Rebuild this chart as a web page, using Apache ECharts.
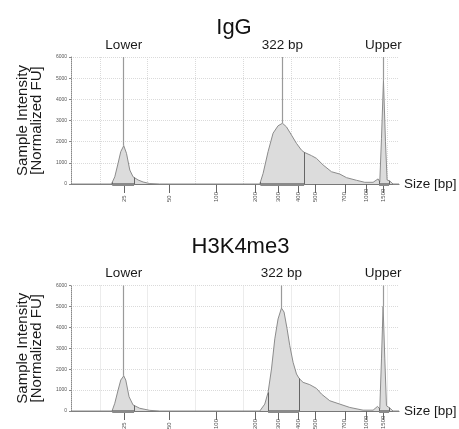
<!DOCTYPE html>
<html><head><meta charset="utf-8">
<script src="https://cdn.jsdelivr.net/npm/echarts@6/dist/echarts.min.js"></script>
<style>html,body{margin:0;padding:0;background:#fff}#c{width:459px;height:429px}</style>
</head><body><div id="c"></div>
<script>
// Ladder (size labels) positioned on migration-time axis
const ladderSizes = [25, 50, 100, 200, 300, 400, 500, 700, 1000, 1500];
const ladderTimes = [55.1, 64.5, 74.3, 82.4, 87.3, 91.4, 95.0, 101.1, 105.6, 109.2];

const panelTitles = ['IgG', 'H3K4me3'];
const markerNames = ['Lower', '322 bp', 'Upper'];

// IgG electropherogram
const iggTime = [44.0, 52.44, 53.13, 53.82, 54.38, 55.0, 55.57, 56.26, 56.94, 57.99, 59.03, 60.43, 62.5,
  83.37, 84.06, 85.1, 86.14, 87.18, 88.1, 88.93, 89.98, 91.02, 92.06, 92.61, 94.15, 95.19, 96.57, 98.32,
  100.05, 101.45, 103.53, 105.26, 107.0, 108.04, 108.39, 108.75, 109.16, 109.58, 109.92, 110.48, 111.16, 112.4];
const iggFU = [0, 0, 340, 980, 1530, 1810, 1450, 660, 340, 190, 95, 20, 0,
  0, 500, 1530, 2400, 2750, 2870, 2700, 2310, 1920, 1600, 1500, 1340, 1210, 900, 580,
  470, 300, 175, 80, 80, 240, 100, 2160, 4900, 2000, 190, 140, 0, 0];
const iggMarkerTimes = [55.0, 88.1, 109.16];
const iggRegionStart = [52.6, 83.5, 108.25];
const iggRegionEnd = [57.15, 92.61, 110.33];

// H3K4me3 electropherogram
const h3Time = [44.0, 52.56, 53.13, 53.82, 54.38, 55.0, 55.42, 56.11, 56.94, 58.34, 60.43, 62.5,
  83.37, 84.41, 85.1, 85.81, 86.5, 87.18, 87.89, 88.43, 89.06, 89.62, 90.31, 91.02, 91.56, 92.4, 93.79,
  95.19, 96.23, 97.97, 100.05, 102.14, 104.91, 107.0, 107.92, 108.39, 108.75, 109.08, 109.44, 109.79,
  110.48, 111.16, 112.4];
const h3FU = [0, 0, 370, 1000, 1480, 1680, 1480, 680, 290, 130, 30, 0,
  0, 330, 890, 2010, 3450, 4400, 4920, 4730, 3930, 3130, 2330, 1770, 1560, 1370, 1260,
  1080, 810, 490, 330, 170, 40, 40, 220, 100, 2490, 5010, 2490, 250,
  140, 0, 0];
const h3MarkerTimes = [55.0, 87.89, 109.08];
const h3RegionStart = [52.6, 85.1, 108.25];
const h3RegionEnd = [57.15, 91.56, 110.33];

const FONT = 'Liberation Sans, Arial, Helvetica, sans-serif';
const X_MIN = 44.0, X_MAX = 112.4;

function interp(ts, vs, t) {
  for (let i = 1; i < ts.length; i++) {
    if (t <= ts[i]) {
      const f = (t - ts[i - 1]) / (ts[i] - ts[i - 1]);
      return vs[i - 1] + f * (vs[i] - vs[i - 1]);
    }
  }
  return 0;
}

const grids = [
  { left: 71, right: 60, top: 57, height: 127, containLabel: false, outerBoundsMode: 'none' },
  { left: 71, right: 60, top: 285.5, height: 125.5, containLabel: false, outerBoundsMode: 'none' }
];

function makeX(g) {
  return [
    { gridIndex: g, type: 'value', min: X_MIN, max: X_MAX, splitNumber: 5,
      axisLine: { show: true, onZero: false, lineStyle: { color: '#777', width: 1.2 } },
      axisTick: { show: false }, axisLabel: { show: false },
      splitLine: { show: true, showMinLine: false, showMaxLine: false,
        lineStyle: { color: '#dadada', type: 'dotted', width: 1 } } },
    { gridIndex: g, type: 'value', min: X_MIN, max: X_MAX, position: 'bottom', offset: 10,
      axisLine: { show: false },
      axisTick: { show: true, length: 9, customValues: ladderTimes, lineStyle: { color: '#666', width: 1 } },
      axisLabel: { show: true, customValues: ladderTimes, rotate: 90, margin: 8, fontSize: 6,
        align: 'left', color: '#555', fontFamily: FONT, padding: [0, 0, 8, 0],
        formatter: v => { const i = ladderTimes.indexOf(v); return i >= 0 ? String(ladderSizes[i]) : ''; } },
      splitLine: { show: false },
      name: 'Size [bp]', nameLocation: 'end', nameGap: 5,
      nameTextStyle: { fontSize: 13.5, color: '#1a1a1a', fontFamily: FONT, verticalAlign: 'middle', padding: [2, 0, 0, 0] } }
  ];
}

function makeY(g) {
  return { gridIndex: g, type: 'value', min: 0, max: 6000, interval: 1000,
    name: 'Sample Intensity\n[Normalized FU]', nameLocation: 'middle', nameGap: 27,
    nameTextStyle: { fontSize: 15, lineHeight: 14, color: '#1a1a1a', fontFamily: FONT },
    axisLine: { show: true, lineStyle: { color: '#888', type: 'dotted', width: 1 } },
    axisTick: { show: true, length: 2, lineStyle: { color: '#888' } },
    axisLabel: { fontSize: 5, color: '#555', margin: 4, fontFamily: FONT, formatter: v => String(v) },
    splitLine: { show: true, lineStyle: { color: '#dadada', type: 'dotted', width: 1 } } };
}

function makeSeries(g, times, fu, markerTimes, rStart, rEnd) {
  const data = times.map((t, i) => [t, fu[i]]);
  const mlData = [];
  markerTimes.forEach((t, i) => {
    const v = fu[times.indexOf(t)];
    mlData.push([
      { coord: [t, v], lineStyle: { color: '#9a9a9a', width: 1.2, type: 'solid' },
        label: { show: true, position: 'end', distance: 5, formatter: markerNames[i],
          fontSize: 13.5, color: '#1a1a1a', fontFamily: FONT } },
      { coord: [t, 6000] }
    ]);
  });
  rStart.forEach((s, i) => {
    const e = rEnd[i];
    mlData.push([{ coord: [s, 0], lineStyle: { color: '#8a8a8a', width: 3, type: 'solid' } }, { coord: [e, 0] }]);
    mlData.push([{ coord: [s, 0], lineStyle: { color: '#666', width: 1, type: 'solid' } }, { coord: [s, interp(times, fu, s)] }]);
    mlData.push([{ coord: [e, 0], lineStyle: { color: '#666', width: 1, type: 'solid' } }, { coord: [e, interp(times, fu, e)] }]);
  });
  return {
    type: 'line', xAxisIndex: g * 2, yAxisIndex: g, data: data,
    showSymbol: false, symbol: 'none', smooth: false, clip: false,
    lineStyle: { color: '#8c8c8c', width: 1 },
    areaStyle: { color: '#dcdcdc', opacity: 1 },
    animation: false, silent: true,
    markLine: { silent: true, symbol: ['none', 'none'], animation: false,
      lineStyle: { type: 'solid' },
      label: { show: false }, data: mlData }
  };
}

const option = {
  backgroundColor: '#fff',
  animation: false,
  title: [
    { text: panelTitles[0], left: 229, top: 12, textAlign: 'center',
      textStyle: { fontSize: 22, fontWeight: 'normal', color: '#111', fontFamily: FONT } },
    { text: panelTitles[1], left: 235.5, top: 231, textAlign: 'center',
      textStyle: { fontSize: 22, fontWeight: 'normal', color: '#111', fontFamily: FONT } }
  ],
  grid: grids,
  xAxis: [...makeX(0), ...makeX(1)],
  yAxis: [makeY(0), makeY(1)],
  series: [
    makeSeries(0, iggTime, iggFU, iggMarkerTimes, iggRegionStart, iggRegionEnd),
    makeSeries(1, h3Time, h3FU, h3MarkerTimes, h3RegionStart, h3RegionEnd)
  ]
};

const chart = echarts.init(document.getElementById('c'), null, { renderer: 'canvas' });
chart.setOption(option);
</script></body></html>
